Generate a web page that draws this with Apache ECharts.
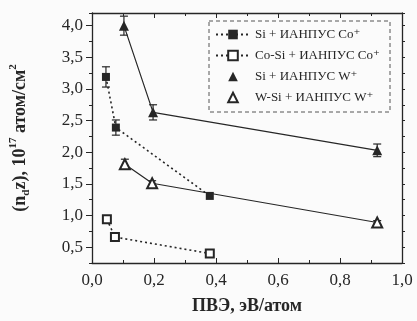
<!DOCTYPE html>
<html>
<head>
<meta charset="utf-8">
<script src="https://cdn.jsdelivr.net/npm/echarts@6/dist/echarts.min.js"></script>
<style>
  html, body { margin: 0; padding: 0; background: #fbfbfb; }
  #chart { width: 417px; height: 321px; }
</style>
</head>
<body>
<div id="chart"></div>
<script>
// данные
const siCoX = [0.045, 0.077, 0.38];
const siCoY = [3.19, 2.39, 1.31];
const siCoErr = [0.16, 0.12, 0];

const coSiX = [0.048, 0.074, 0.38];
const coSiY = [0.94, 0.66, 0.40];
const coSiErr = [0, 0, 0];

const siWX = [0.103, 0.197, 0.92];
const siWY = [4.0, 2.63, 2.03];
const siWErr = [0.15, 0.12, 0.1];

const wSiX = [0.106, 0.194, 0.92];
const wSiY = [1.81, 1.51, 0.89];
const wSiErr = [0.08, 0.04, 0.03];

const seriesNames = [
    'Si + ИАНПУС Co⁺',
    'Co-Si + ИАНПУС Co⁺',
    'Si + ИАНПУС W⁺',
    'W-Si + ИАНПУС W⁺'
];
const yLabelValues = [0.5, 1.0, 1.5, 2.0, 2.5, 3.0, 3.5, 4.0];

const FONT = '"Liberation Serif", "DejaVu Serif", serif';
const INK = '#262626';

function pairs(xs, ys) {
    return xs.map((x, i) => [x, ys[i]]);
}
function errData(xs, ys, es) {
    let out = [];
    for (let i = 0; i < xs.length; i++) {
        if (es[i] > 0) out.push([xs[i], ys[i] - es[i], ys[i] + es[i]]);
    }
    return out;
}
function comma(v) {
    return v.toFixed(1).replace('.', ',');
}

// усы погрешностей
function errorSeries(data) {
    return {
        type: 'custom',
        silent: true,
        z: 1,
        data: data,
        renderItem: function (params, api) {
            let lo = api.coord([api.value(0), api.value(1)]);
            let hi = api.coord([api.value(0), api.value(2)]);
            let w = 4;
            let st = { stroke: INK, lineWidth: 1.2 };
            return {
                type: 'group',
                children: [
                    { type: 'line', shape: { x1: lo[0], y1: lo[1], x2: hi[0], y2: hi[1] }, style: st },
                    { type: 'line', shape: { x1: lo[0] - w, y1: lo[1], x2: lo[0] + w, y2: lo[1] }, style: st },
                    { type: 'line', shape: { x1: hi[0] - w, y1: hi[1], x2: hi[0] + w, y2: hi[1] }, style: st }
                ]
            };
        }
    };
}

const chart = echarts.init(document.getElementById('chart'), null, { renderer: 'canvas' });

const axisLine = { show: true, lineStyle: { color: INK, width: 1.3 } };
const hiddenLine = { opacity: 0 };

chart.setOption({
    animation: false,
    backgroundColor: '#fbfbfb',
    grid: { left: 92, right: 15, top: 13, bottom: 58 },
    legend: {
        orient: 'vertical',
        left: 210,
        top: 23,
        itemWidth: 34,
        itemHeight: 12,
        itemGap: 8,
        textStyle: { fontFamily: FONT, fontSize: 13, color: INK },
        data: [
            { name: seriesNames[0] },
            { name: seriesNames[1] },
            { name: seriesNames[2], lineStyle: hiddenLine },
            { name: seriesNames[3], lineStyle: hiddenLine }
        ]
    },
    graphic: [{
        type: 'rect',
        shape: { x: 209, y: 21, width: 181, height: 91 },
        style: { fill: 'none', stroke: '#555', lineWidth: 1, lineDash: [4, 3] },
        silent: true
    }],
    xAxis: [{
        type: 'value',
        min: 0,
        max: 1,
        interval: 0.2,
        position: 'bottom',
        axisLine: axisLine,
        axisTick: { inside: true, length: 5, lineStyle: { color: INK } },
        minorTick: { show: true, splitNumber: 2, length: 3, lineStyle: { color: INK } },
        splitLine: { show: false },
        axisLabel: {
            margin: 9,
            fontFamily: FONT, fontSize: 17, color: INK,
            formatter: comma
        },
        name: 'ПВЭ, эВ/атом',
        nameLocation: 'middle',
        nameGap: 34,
        nameTextStyle: { fontFamily: FONT, fontSize: 18, fontWeight: 'bold', color: INK }
    }, {
        type: 'value',
        min: 0,
        max: 1,
        interval: 0.2,
        position: 'top',
        axisLine: axisLine,
        axisTick: { inside: true, length: 5, lineStyle: { color: INK } },
        minorTick: { show: true, splitNumber: 2, length: 3, lineStyle: { color: INK } },
        splitLine: { show: false },
        axisLabel: { show: false }
    }],
    yAxis: [{
        type: 'value',
        min: 0.25,
        max: 4.2,
        position: 'left',
        axisLine: axisLine,
        axisTick: { length: 6, customValues: yLabelValues, lineStyle: { color: INK } },
        splitLine: { show: false },
        axisLabel: {
            margin: 9,
            customValues: yLabelValues,
            fontFamily: FONT, fontSize: 17, color: INK,
            formatter: comma
        },
        name: '{b|(n}{sub|d}{b|z), 10}{sup|17}{b| атом/см}{sup|2}',
        nameLocation: 'middle',
        nameGap: 60,
        nameTextStyle: {
            fontFamily: FONT, fontSize: 18, fontWeight: 'bold', color: INK,
            rich: {
                b: { fontFamily: FONT, fontSize: 18, fontWeight: 'bold', color: INK, lineHeight: 24 },
                sub: { fontFamily: FONT, fontSize: 11, fontWeight: 'bold', color: INK, lineHeight: 24, verticalAlign: 'bottom' },
                sup: { fontFamily: FONT, fontSize: 11, fontWeight: 'bold', color: INK, lineHeight: 24, verticalAlign: 'top' }
            }
        }
    }, {
        // мелкие деления слева
        type: 'value',
        min: 0.25,
        max: 4.2,
        interval: 0.25,
        position: 'left',
        axisLine: { show: false },
        axisTick: { length: 3, lineStyle: { color: INK } },
        splitLine: { show: false },
        axisLabel: { show: false }
    }, {
        type: 'value',
        min: 0.25,
        max: 4.2,
        interval: 0.25,
        position: 'right',
        axisLine: axisLine,
        axisTick: { length: 3, lineStyle: { color: INK } },
        splitLine: { show: false },
        axisLabel: { show: false }
    }],
    series: [{
        name: seriesNames[0],
        type: 'line',
        data: pairs(siCoX, siCoY),
        symbol: 'rect',
        symbolSize: 8,
        z: 3,
        itemStyle: { color: INK },
        lineStyle: { color: INK, width: 1.6, type: [2, 3] }
    }, {
        name: seriesNames[1],
        type: 'line',
        data: pairs(coSiX, coSiY),
        symbol: 'emptyRect',
        symbolSize: 8,
        z: 3,
        itemStyle: { color: INK, borderWidth: 1.3 },
        lineStyle: { color: INK, width: 1.6, type: [2, 3] }
    }, {
        name: seriesNames[2],
        type: 'line',
        data: pairs(siWX, siWY),
        symbol: 'triangle',
        symbolSize: 10,
        z: 3,
        itemStyle: { color: INK },
        lineStyle: { color: INK, width: 1.2 }
    }, {
        name: seriesNames[3],
        type: 'line',
        data: pairs(wSiX, wSiY),
        symbol: 'emptyTriangle',
        symbolSize: 10,
        z: 3,
        itemStyle: { color: INK, borderWidth: 1.3 },
        lineStyle: { color: INK, width: 1.2 }
    },
    errorSeries(errData(siCoX, siCoY, siCoErr)),
    errorSeries(errData(siWX, siWY, siWErr)),
    errorSeries(errData(wSiX, wSiY, wSiErr))
    ]
});
</script>
</body>
</html>
